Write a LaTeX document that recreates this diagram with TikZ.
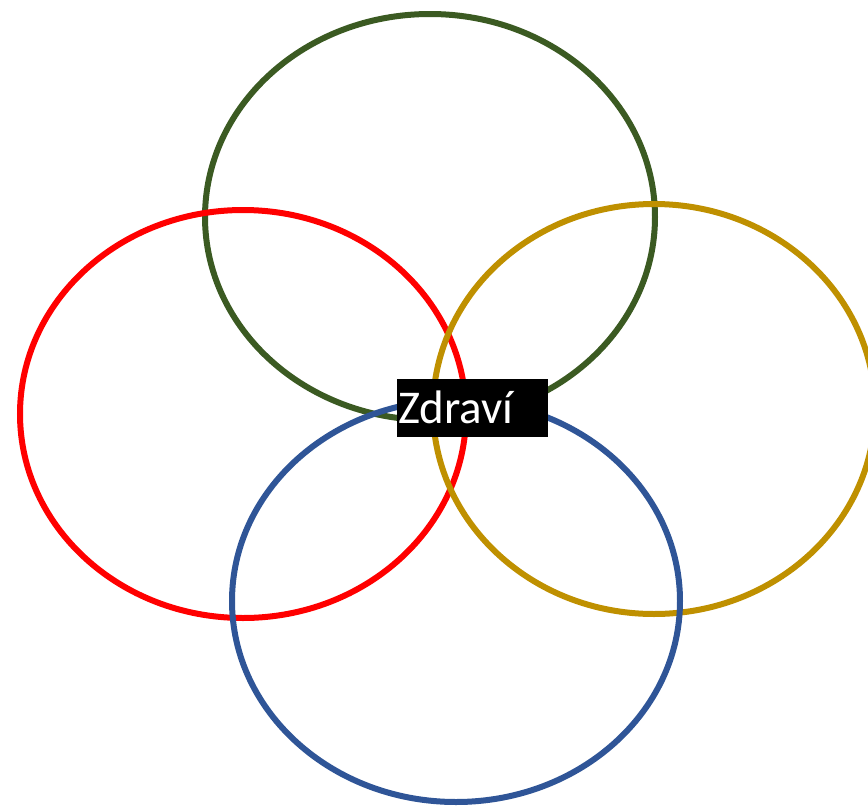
\documentclass[tikz,border=0pt]{standalone}
\usepackage{fontspec}
\setmainfont{Carlito}
\definecolor{cgreen}{HTML}{3B5A22}
\definecolor{cred}{HTML}{FF0000}
\definecolor{cgold}{HTML}{BF9000}
\definecolor{cblue}{HTML}{2F5597}
\begin{document}
\begin{tikzpicture}[x=1pt,y=-1pt,
  ring/.style={line width=6pt},
  labelbox/.style={fill=black,inner sep=0pt,minimum width=151pt,minimum height=58pt},
  labeltext/.style={text=white,font=\fontsize{47}{47}\selectfont,inner sep=0pt,anchor=base west}]
\useasboundingbox (0,0) rectangle (868,809);
\begin{scope}
\clip (0,0) rectangle (868,809);
\draw[ring,cgreen] (430,217) ellipse [x radius=225, y radius=203];
\draw[ring,cred] (243,414) ellipse [x radius=223, y radius=204];
\draw[ring,cgold] (654,409) ellipse [x radius=221, y radius=205];
\draw[ring,cblue] (456,601) ellipse [x radius=224, y radius=201];
\end{scope}
\node[labelbox] (box) at (472.5,408) {};
\node[labeltext] (lbl) at (398,423) {Zdraví};
\end{tikzpicture}
\end{document}
